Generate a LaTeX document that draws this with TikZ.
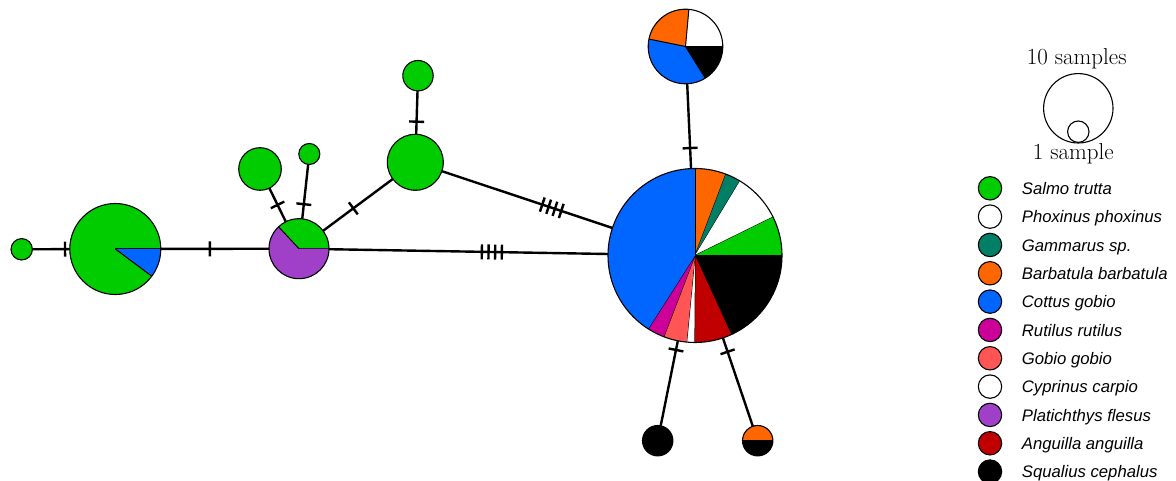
\documentclass[tikz,border=0pt]{standalone}
\usepackage{fontspec}
\newfontfamily\legendfont{Liberation Sans}
\usetikzlibrary{decorations.markings}
\definecolor{cgreen}{HTML}{00CC00}
\definecolor{cblue}{HTML}{0066FF}
\definecolor{corange}{HTML}{FF6600}
\definecolor{cteal}{HTML}{007F66}
\definecolor{cmagenta}{HTML}{CC0099}
\definecolor{csalmon}{HTML}{FF5555}
\definecolor{cpurple}{HTML}{A040C8}
\definecolor{cdarkred}{HTML}{C00000}
\newcommand{\pieslice}[5]{%
  \fill[#5] (#1) -- ++(#3:#2) arc[start angle=#3, end angle=#4, radius=#2] -- cycle;
  \draw[sliceline] (#1) -- ++(#3:#2);}
\tikzset{
  conn/.style={line width=2.4pt, draw=black},
  tickline/.style={line width=2.4pt, draw=black},
  sliceline/.style={line width=1pt, draw=black},
  outline/.style={line width=1.1pt, draw=black},
  onetick/.style={postaction={decorate, decoration={markings,
      mark=at position #1 with {\draw[tickline] (0pt,-7.5pt) -- (0pt,7.5pt);}}}},
  fourtick/.style={postaction={decorate, decoration={markings,
      mark=at position #1 with {
        \draw[tickline] (-10pt,-7.5pt) -- (-10pt,7.5pt);
        \draw[tickline] (-3.3pt,-7.5pt) -- (-3.3pt,7.5pt);
        \draw[tickline] (3.3pt,-7.5pt) -- (3.3pt,7.5pt);
        \draw[tickline] (10pt,-7.5pt) -- (10pt,7.5pt);}}}},
  legtext/.style={anchor=base west, inner sep=0pt, font=\legendfont\itshape\fontsize{16.7}{20}\selectfont},
  legdot/.style={circle, draw=black, line width=1.1pt, minimum size=23.4pt, inner sep=0pt},
  sizetext/.style={anchor=base, inner sep=0pt, font=\fontsize{23}{27}\selectfont}
}
\begin{document}
\begin{tikzpicture}[x=1pt, y=1pt]
\useasboundingbox (0,0) rectangle (1176,481);
% haplotype centres
\coordinate (S1) at (21.7,231.7);
\coordinate (L)  at (115.3,232);
\coordinate (P)  at (299,232.3);
\coordinate (A)  at (260,312);
\coordinate (B)  at (309.3,327);
\coordinate (C)  at (415.3,318.7);
\coordinate (D)  at (418,405.3);
\coordinate (M)  at (695,225.5);
\coordinate (T)  at (685.5,434.5);
\coordinate (E)  at (657.7,40.3);
\coordinate (F)  at (757.7,40.3);
% connectors
\draw[conn, onetick=0.463] (S1) -- (L);
\draw[conn, onetick=0.515] (L) -- (P);
\draw[conn, onetick=0.55] (P) -- (A);
\draw[conn, onetick=0.47] (P) -- (B);
\draw[conn, onetick=0.467] (P) -- (C);
\draw[conn, onetick=0.531] (D) -- (C);
\draw[conn, fourtick=0.488] (C) -- (M);
\draw[conn, fourtick=0.487] (P) -- (M);
\draw[conn, onetick=0.486] (T) -- (M);
\draw[conn, onetick=0.51] (M) -- (E);
\draw[conn, onetick=0.52] (M) -- (F);
% simple green haplotypes
\filldraw[fill=cgreen, outline] (S1) circle[radius=10.7pt];
\filldraw[fill=cgreen, outline] (A) circle[radius=21.3pt];
\filldraw[fill=cgreen, outline] (B) circle[radius=10.5pt];
\filldraw[fill=cgreen, outline] (C) circle[radius=28pt];
\filldraw[fill=cgreen, outline] (D) circle[radius=15.2pt];
% left pie
\pieslice{L}{45.5pt}{0}{323.3}{cgreen}
\pieslice{L}{45.5pt}{323.3}{360}{cblue}
\draw[outline] (L) circle[radius=45.5pt];
% purple pie
\pieslice{P}{30pt}{0}{133}{cgreen}
\pieslice{P}{30pt}{133}{360}{cpurple}
\draw[outline] (P) circle[radius=30pt];
% big pie
\pieslice{M}{87pt}{69.2}{90}{corange}
\pieslice{M}{87pt}{58.9}{69.2}{cteal}
\pieslice{M}{87pt}{26.2}{58.9}{white}
\pieslice{M}{87pt}{0}{26.2}{cgreen}
\pieslice{M}{87pt}{-65.3}{0}{black}
\pieslice{M}{87pt}{-90.4}{-65.3}{cdarkred}
\pieslice{M}{87pt}{-95.5}{-90.4}{white}
\pieslice{M}{87pt}{-111}{-95.5}{csalmon}
\pieslice{M}{87pt}{-122.5}{-111}{cmagenta}
\pieslice{M}{87pt}{90}{237.5}{cblue}
\draw[outline] (M) circle[radius=87pt];
% top pie
\pieslice{T}{37.3pt}{0}{84.8}{white}
\pieslice{T}{37.3pt}{84.8}{168.5}{corange}
\pieslice{T}{37.3pt}{168.5}{302}{cblue}
\pieslice{T}{37.3pt}{302}{360}{black}
\draw[outline] (T) circle[radius=37.3pt];
% bottom pies
\filldraw[fill=black, outline] (E) circle[radius=15.2pt];
\pieslice{F}{15.2pt}{0}{180}{corange}
\pieslice{F}{15.2pt}{180}{360}{black}
\draw[outline] (F) circle[radius=15.2pt];
% size legend
\node[sizetext] (ten) at (1076.7,416) {10 samples};
\draw[outline] (1078.3,372.7) circle[radius=34.7pt];
\draw[outline] (1078.3,349.3) circle[radius=10.7pt];
\node[sizetext] (one) at (1073.3,321.7) {1 sample};
% species legend
\foreach \i/\col/\name in {0/cgreen/Salmo trutta, 1/white/Phoxinus phoxinus, 2/cteal/Gammarus sp., 3/corange/Barbatula barbatula, 4/cblue/Cottus gobio, 5/cmagenta/Rutilus rutilus, 6/csalmon/Gobio gobio, 7/white/Cyprinus carpio, 8/cpurple/Platichthys flesus, 9/cdarkred/Anguilla anguilla, 10/black/Squalius cephalus}{
  \node[legdot, fill=\col] (dot\i) at (990, 292.7-28.33*\i) {};
  \node[legtext] (lab\i) at (1021.7, 286.4-28.33*\i) {\name};
}
\end{tikzpicture}
\end{document}
